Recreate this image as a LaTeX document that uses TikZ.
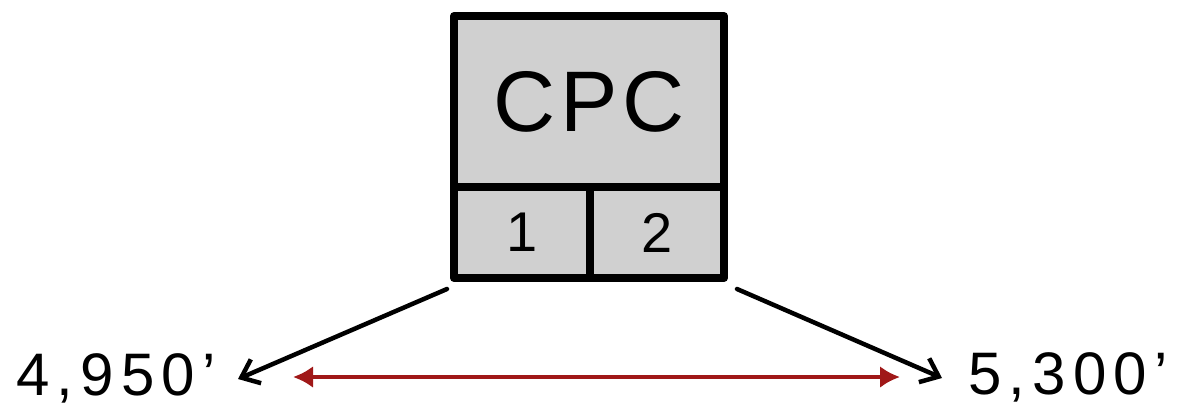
\documentclass[tikz,border=0pt]{standalone}
\usepackage{fontspec}
\setmainfont{Liberation Sans}
\usetikzlibrary{arrows.meta}
\definecolor{boxgray}{HTML}{D0D0D0}
\definecolor{arrowred}{HTML}{A01818}
\tikzset{
  cell/.style={draw=black, line width=8pt, fill=boxgray, rectangle, inner sep=0pt, line join=round},
  blackarrow/.style={draw=black, line width=4.5pt, line cap=round, -{Straight Barb[length=16pt, width=26pt, line width=4.5pt]}},
  redarrow/.style={draw=arrowred, line width=4.5pt, line cap=round, {Latex[length=20pt, width=22pt]}-{Latex[length=20pt, width=22pt]}},
  lbl/.style={inner sep=0pt, font=\fontsize{60}{60}\selectfont\addfontfeatures{LetterSpace=12}}
}
\begin{document}
\begin{tikzpicture}[x=1pt,y=-1pt]
\useasboundingbox (0,0) rectangle (1177,408);
\node[cell, minimum width=270pt, minimum height=171pt] (cpc) at (589,101.5)
  {\fontsize{86}{86}\selectfont\addfontfeatures{LetterSpace=6}CPC};
\node[cell, minimum width=136pt, minimum height=91pt] (c1) at (522,232.5)
  {\fontsize{56}{56}\selectfont 1};
\node[cell, minimum width=134pt, minimum height=91pt] (c2) at (657,232.5)
  {\fontsize{56}{56}\selectfont 2};
\node[lbl, anchor=base] (l1) at (116,395) {4,950'};
\node[lbl, anchor=base] (l2) at (1068,394) {5,300'};
\coordinate (s1) at (447,289);
\coordinate (s2) at (737,289);
\coordinate (t1) at (238,379);
\coordinate (t2) at (942,378);
\draw[blackarrow] (s1) -- (t1);
\draw[blackarrow] (s2) -- (t2);
\coordinate (r1) at (293,377);
\coordinate (r2) at (900,377);
\draw[redarrow] (r1) -- (r2);
\end{tikzpicture}
\end{document}
